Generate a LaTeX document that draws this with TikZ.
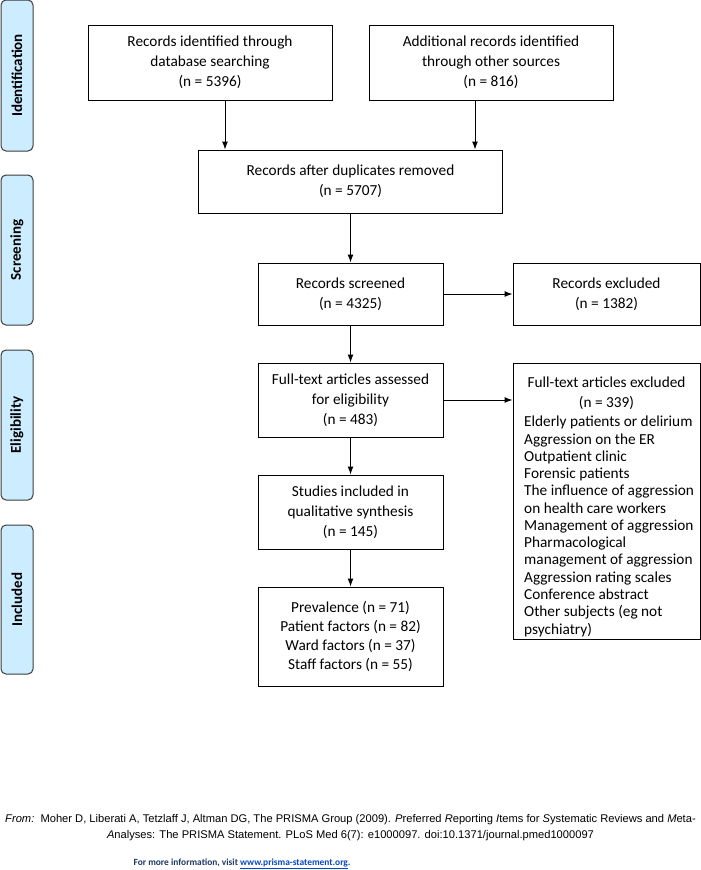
\documentclass[tikz,border=0pt]{standalone}
\usepackage{fontspec}
\setmainfont{Carlito}
\newfontfamily\arialfont{Liberation Sans}
\usetikzlibrary{arrows.meta}
\definecolor{phasefill}{RGB}{204,236,255}
\definecolor{phaseline}{RGB}{60,60,60}
\definecolor{footblue}{RGB}{31,56,100}
\definecolor{linkblue}{RGB}{5,70,200}
\tikzstyle{box} = [draw, line width=1pt, align=center, inner sep=0pt, font=\fontsize{15.3}{20}\selectfont]
\tikzstyle{phase} = [draw=phaseline, fill=phasefill, line width=1pt, rounded corners=5pt, rotate=90, minimum height=32pt, inner sep=0pt, font=\bfseries\fontsize{15}{18}\selectfont]
\tikzstyle{flow} = [->, >={Latex[length=8pt,width=6pt]}, line width=1pt]

\begin{document}
\begin{tikzpicture}[x=1pt,y=-1pt]
    \useasboundingbox (0,0) rectangle (701,870);

    % phases
    \node[phase, minimum width=151pt] (ident) at (17,75.5)  {Identification};
    \node[phase, minimum width=150pt] (screen) at (17,250) {Screening};
    \node[phase, minimum width=150pt] (elig) at (17,425)   {Eligibility};
    \node[phase, minimum width=149pt] (incl) at (17,599.5) {Included};

    \node[box, minimum width=244pt, minimum height=75pt] (dbsearch) at (210,62.5) {Records identified through\\database searching\\(n = 5396)};
    \node[box, minimum width=244pt, minimum height=75pt] (othersrc) at (491,62.5) {Additional records identified\\through other sources\\(n = 816)};
    \node[box, minimum width=304pt, minimum height=63pt] (dedup) at (350.5,181.5) {Records after duplicates removed\\(n = 5707)};
    \node[box, minimum width=185pt, minimum height=62pt] (screened) at (350.5,294) {Records screened\\(n = 4325)};
    \node[box, minimum width=187pt, minimum height=62pt] (excluded) at (606.5,294) {Records excluded\\(n = 1382)};
    \node[box, minimum width=185pt, minimum height=74pt] (fulltext) at (350.5,400) {Full-text articles assessed\\for eligibility\\(n = 483)};
    \node[box, minimum width=185pt, minimum height=74pt] (qualit) at (350.5,512) {Studies included in\\qualitative synthesis\\(n = 145)};
    \node[box, minimum width=185pt, minimum height=99pt, font=\fontsize{15.3}{19}\selectfont] (final) at (350.5,636.5) {Prevalence (n = 71)\\Patient factors (n = 82)\\Ward factors (n = 37)\\Staff factors (n = 55)};

    % exclusion reasons
    \node[box, minimum width=187pt, minimum height=276pt] (ftexcl) at (606.5,501) {};
    \node[anchor=north, align=center, inner sep=0pt, font=\fontsize{15.3}{20}\selectfont] (exhead) at ([yshift=-14pt]ftexcl.north) {Full-text articles excluded\\(n = 339)};
    \node[anchor=north west, align=left, inner sep=0pt, font=\fontsize{15.3}{17.27}\selectfont] (exlist) at (524,416) {Elderly patients or delirium\\Aggression on the ER\\Outpatient clinic\\Forensic patients\\The influence of aggression\\on health care workers\\Management of aggression\\Pharmacological\\management of aggression\\Aggression rating scales\\Conference abstract\\Other subjects (eg not\\psychiatry)};

    \draw[flow] ([xshift=15pt]dbsearch.south) -- ([xshift=15pt]dbsearch.south |- dedup.north);
    \draw[flow] ([xshift=-16pt]othersrc.south) -- ([xshift=-16pt]othersrc.south |- dedup.north);
    \draw[flow] (dedup) -- (screened);
    \draw[flow] (screened) -- (excluded);
    \draw[flow] (screened) -- (fulltext);
    \draw[flow] (fulltext.east) -- (fulltext.east -| ftexcl.west);
    \draw[flow] (fulltext) -- (qualit);
    \draw[flow] (qualit) -- (final);

    % footer
    \node[align=center, inner sep=0pt, font=\arialfont\fontsize{11.15}{16}\selectfont] (source) at (350.5,828) {\textit{From:}\ \ Moher D, Liberati A, Tetzlaff J, Altman DG, The PRISMA Group (2009). \textit{P}referred \textit{R}eporting \textit{I}tems for \textit{S}ystematic Reviews and \textit{M}eta-\\\textit{A}nalyses: The PRISMA Statement. PLoS Med 6(7): e1000097. doi:10.1371/journal.pmed1000097};
    \node[inner sep=0pt, text=footblue, font=\bfseries\fontsize{9.4}{12}\selectfont] (moreinfo) at (242,864) {For more information, visit {\color{linkblue}\underline{www.prisma-statement.org}}.};
\end{tikzpicture}
\end{document}
